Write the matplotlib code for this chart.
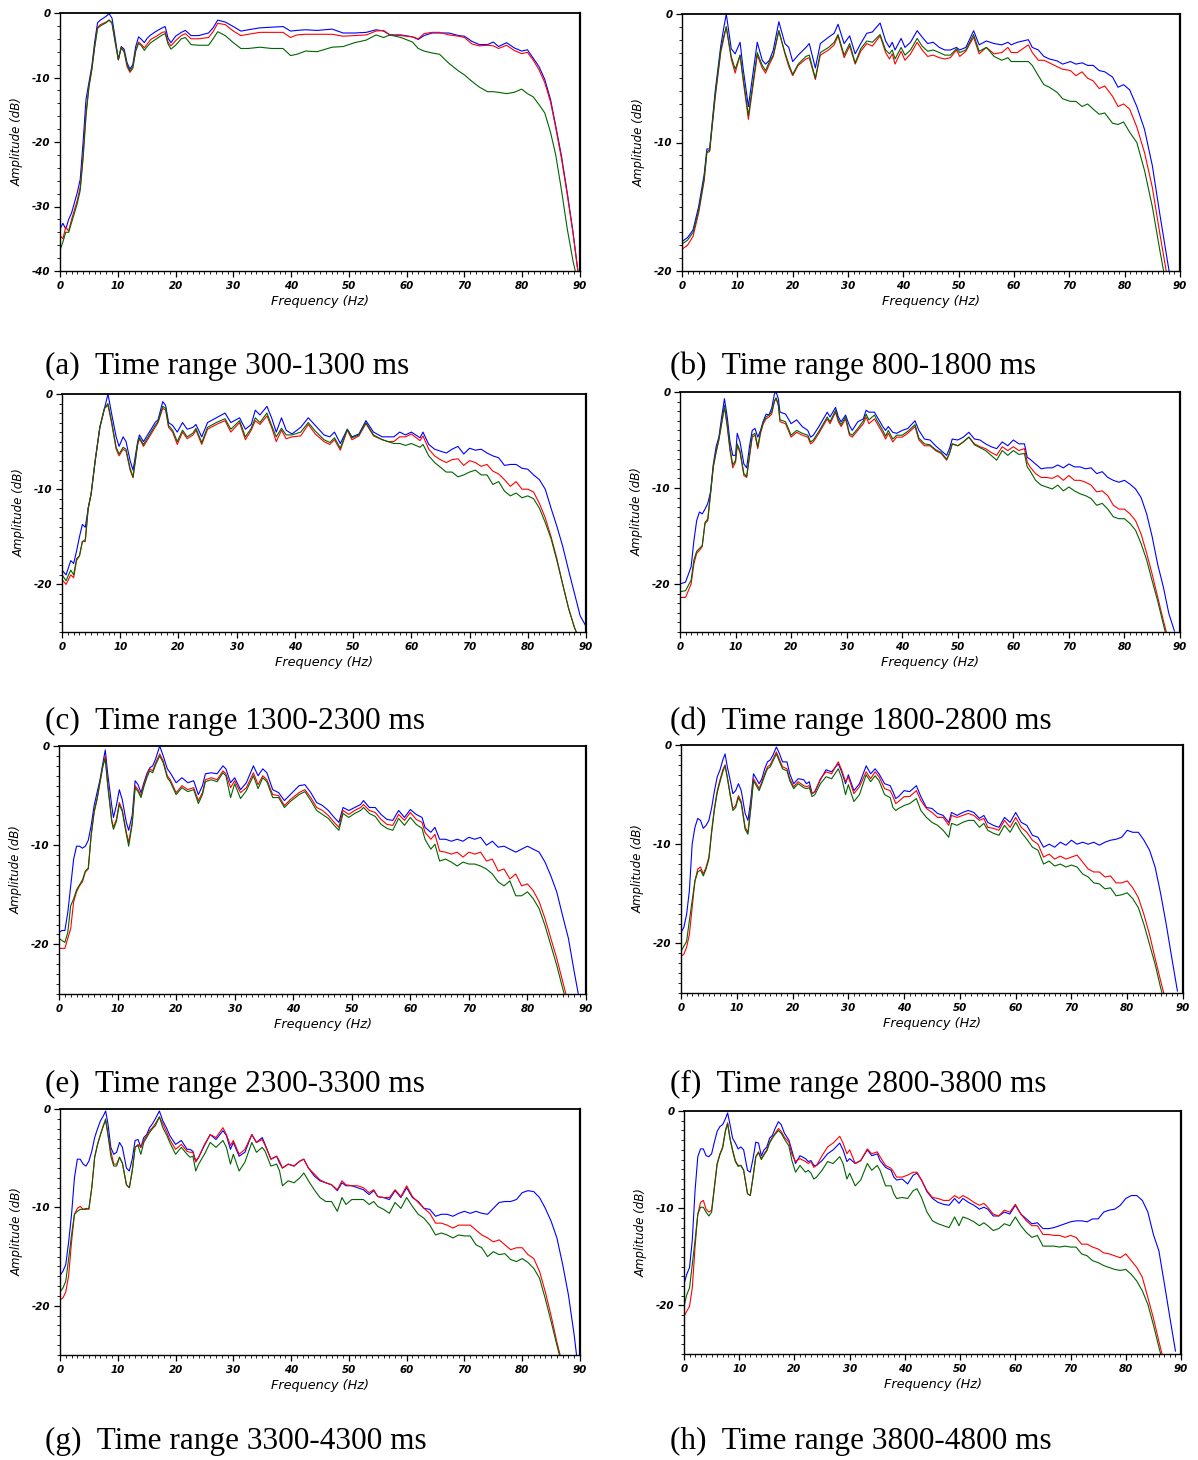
import matplotlib
matplotlib.use('Agg')
import matplotlib.pyplot as plt
from matplotlib.ticker import MultipleLocator

# ---------------- data (dB vs Hz) ----------------
a_freq = [0, 0.5, 1, 1.5, 2, 2.5, 3, 3.5, 4, 4.5, 5, 5.5, 6, 6.5, 7, 8, 8.5, 9, 9.5, 10.1,
          10.6, 11.1, 11.6, 12.1, 12.6, 13.1, 13.6, 14.1, 14.6, 15.1, 15.7, 16.7, 17.7, 18.2, 18.7, 19.2, 20, 21, 21.7, 22.7,
          24, 25.7, 26.5, 27.3, 28.6, 30, 31.3, 32.6, 34.6, 36.6, 38.6, 39.9, 41, 42.5, 44.5, 47.1, 49, 51, 53, 54.7,
          56, 57.1, 59, 61, 62, 63, 64.4, 65.7, 67.3, 69, 70, 71.3, 72.6, 74, 75, 75.9, 77.3, 78.6, 79.9, 80.9,
          81.9, 82.9, 83.9, 84.9, 85.8, 86.8, 87.8, 88.8, 89.7]
a_blue = [-33.5, -32.6, -33.5, -32, -31, -29.4, -27.8, -25.8, -20, -13.4, -10.8, -8.3, -4.5, -1.5, -1.1, -0.5, -0.1, -0.8, -3.6, -7.2,
          -5.2, -5.6, -7.7, -8.7, -8.0, -5.2, -3.7, -4.1, -4.6, -3.9, -3.4, -2.8, -2.3, -2.1, -3.9, -4.6, -3.6, -3.0, -2.7, -3.5,
          -3.5, -3.1, -2.3, -1.1, -1.4, -2.1, -2.8, -2.6, -2.3, -2.2, -2.1, -2.8, -2.7, -2.6, -2.7, -2.5, -3.1, -3.1, -3.0, -2.6,
          -2.8, -3.4, -3.4, -3.7, -4.1, -3.5, -3.1, -3.1, -3.1, -3.5, -3.6, -4.4, -4.9, -4.9, -4.5, -5.2, -4.6, -5.4, -5.9, -5.7,
          -7.0, -8.3, -10.3, -13.4, -17.5, -22.2, -27.9, -34, -40.5]
a_red = [-34.5, -35, -33.2, -33.8, -32, -30.5, -29, -27, -22, -15.5, -11.5, -8.8, -5.2, -2.2, -1.8, -1.4, -1.1, -1.6, -4.3, -7.3,
         -5.3, -6.0, -8.3, -9.2, -8.6, -5.8, -4.5, -4.9, -5.4, -4.8, -4.1, -3.6, -3.0, -2.9, -4.5, -5.1, -4.3, -3.5, -3.2, -4.0,
         -4.0, -3.8, -2.9, -1.6, -1.8, -2.8, -3.5, -3.3, -3.0, -3.0, -3.0, -3.8, -3.4, -3.3, -3.3, -3.3, -3.6, -3.5, -3.4, -2.8,
         -2.7, -3.4, -3.5, -3.7, -4.0, -3.2, -3.0, -3.0, -3.4, -3.6, -3.8, -4.8, -5.1, -5.0, -5.1, -5.5, -5.0, -5.8, -6.3, -6.1,
         -7.3, -8.8, -10.8, -13.8, -17.8, -22.6, -28.2, -34.2, -40.5]
a_green = [-36.8, -35.5, -34, -34, -32.5, -31, -29.5, -27.5, -22.5, -16, -11.5, -8.8, -5.3, -2.4, -2.0, -1.5, -1.1, -1.5, -4.2, -7.2,
           -5.4, -6.0, -8.0, -9.0, -8.4, -5.9, -4.7, -5.1, -5.8, -5.2, -4.6, -4.0, -3.4, -3.2, -4.8, -5.6, -5.0, -4.0, -3.8, -4.9,
           -5.0, -5.0, -4.0, -2.9, -3.5, -4.6, -5.5, -5.5, -5.3, -5.5, -5.5, -6.6, -6.4, -5.9, -6.0, -5.3, -5.2, -4.6, -4.2, -3.4,
           -3.8, -3.4, -3.8, -4.5, -5.5, -5.9, -6.2, -6.4, -7.8, -9.0, -9.6, -10.6, -11.5, -12.2, -12.2, -12.3, -12.5, -12.3, -11.8, -12.5,
           -13.0, -14.2, -15.5, -18.5, -22.0, -27.5, -33.5, -38.5, -42]

b_freq = [0, 1, 2, 3, 4, 4.5, 5, 6, 7, 7.5, 8, 8.9, 9.6, 10.5, 11, 12, 13.6, 14.5, 15.1, 15.8,
          16.5, 17.5, 18.6, 19.3, 20, 21, 22.4, 23, 24.1, 25, 26.5, 27.5, 28.2, 29.3, 30.3, 31.3, 32.3, 33.4, 34.4, 35.8,
          36.8, 37.5, 38, 38.5, 39.6, 40.3, 41.3, 42.5, 43.4, 44.4, 45.4, 46.5, 47.5, 48.5, 49.6, 50.2, 51.3, 52.7, 53.7, 55,
          56.4, 57.8, 58.9, 59.5, 60.6, 61.6, 62.6, 63.3, 64.4, 65.4, 66.4, 67.8, 68.8, 70.2, 71.2, 72.3, 73.3, 74.3, 75.4, 76.4,
          77.8, 78.8, 79.8, 80.9, 82.2, 83.6, 85, 86.4, 88.1]
b_blue = [-17.7, -17.4, -16.8, -15.0, -12.5, -10.5, -10.5, -6.0, -2.5, -1.2, 0.0, -2.7, -3.1, -2.2, -4.1, -7.2, -2.2, -3.6, -3.9, -3.6,
          -2.8, -0.6, -2.3, -2.6, -3.7, -3.2, -2.6, -2.3, -4.2, -2.3, -1.8, -1.5, -0.8, -2.3, -1.7, -3.1, -2.3, -1.5, -1.4, -0.7,
          -2.1, -2.6, -2.2, -2.8, -1.9, -2.6, -2.2, -1.3, -1.8, -2.3, -2.2, -2.6, -2.8, -2.8, -2.6, -2.8, -2.6, -1.3, -2.4, -2.1,
          -2.3, -2.4, -2.2, -2.4, -2.2, -2.1, -2.0, -2.6, -2.8, -3.3, -3.5, -3.65, -3.9, -3.7, -3.9, -3.8, -4.0, -4.0, -4.4, -4.5,
          -4.9, -5.7, -5.5, -5.9, -7.2, -9.0, -11.8, -15.7, -20.2]
b_red = [-18.3, -18.0, -17.3, -15.5, -13.0, -10.8, -10.7, -6.5, -3.0, -2.0, -1.0, -3.5, -4.6, -3.2, -5.0, -8.2, -3.2, -4.2, -4.6, -3.9,
         -3.3, -1.3, -3.1, -4.1, -4.8, -4.0, -3.5, -3.4, -5.1, -3.2, -2.8, -2.4, -1.7, -3.4, -2.5, -3.9, -2.9, -2.3, -2.5, -1.7,
         -3.0, -3.5, -3.1, -3.9, -2.9, -3.6, -3.1, -2.2, -2.8, -3.3, -3.2, -3.4, -3.5, -3.4, -2.8, -3.3, -2.9, -1.8, -3.1, -2.6,
         -3.1, -3.0, -2.6, -3.0, -3.0, -2.7, -2.4, -3.0, -3.6, -3.6, -3.8, -4.1, -4.3, -4.4, -4.8, -4.5, -5.0, -5.2, -5.8, -5.6,
         -6.4, -7.2, -7.0, -7.4, -8.8, -10.8, -13.5, -17.2, -21.5]
b_green = [-17.9, -17.6, -17.0, -15.3, -12.8, -10.7, -10.6, -6.3, -2.8, -1.8, -1.0, -3.3, -4.3, -3.2, -4.8, -7.9, -3.0, -4.0, -4.4, -3.7,
           -3.2, -1.3, -3.0, -3.9, -4.7, -3.9, -3.3, -3.2, -5.0, -3.0, -2.6, -2.2, -1.6, -3.2, -2.3, -3.8, -2.7, -2.1, -2.2, -1.6,
           -2.8, -3.1, -2.8, -3.5, -2.6, -3.2, -2.8, -1.9, -2.5, -2.9, -2.8, -3.0, -3.2, -3.2, -2.7, -3.0, -2.8, -1.6, -2.9, -2.6,
           -3.3, -3.6, -3.4, -3.7, -3.7, -3.7, -3.7, -4.0, -4.8, -5.5, -5.7, -6.1, -6.6, -6.8, -6.8, -7.2, -7.0, -7.4, -7.8, -7.7,
           -8.5, -8.6, -8.4, -9.2, -10.0, -12.2, -15.0, -18.5, -22.5]

c_freq = [0, 0.7, 1.5, 2, 2.5, 3, 3.5, 4, 4.5, 5, 5.7, 6.5, 7.3, 7.9, 8.5, 9.3, 9.8, 10.5, 11, 11.7,
          12.2, 13, 13.3, 14, 15, 16, 16.5, 17.3, 17.8, 18.3, 19, 19.8, 20.7, 21.5, 22.5, 23, 24, 25, 26.5, 28,
          29, 30.5, 31.5, 32.5, 33.2, 34, 35.2, 36, 36.8, 37.7, 38.5, 39.5, 41, 42.3, 43.5, 45, 46, 46.8, 47.8, 49,
          49.8, 51, 52.2, 53.5, 55, 56, 57, 58, 59, 60, 61.5, 62, 63, 64, 65, 66, 67, 68, 69, 70,
          71, 72, 73, 74, 75, 76, 77, 78, 79, 80, 81, 82, 83, 84, 85, 86, 87, 88, 89, 90]
c_blue = [-18.5, -19.0, -17.5, -17.8, -16.5, -15.0, -13.7, -14.0, -12.0, -10.5, -7.0, -3.5, -1.5, 0.0, -2.0, -4.5, -5.5, -4.5, -5.0, -7.0,
          -8.0, -5.0, -4.3, -5.0, -4.0, -3.0, -2.7, -0.8, -1.2, -3.0, -3.3, -4.0, -3.0, -3.7, -3.5, -3.2, -4.5, -3.0, -2.5, -2.0,
          -3.0, -2.5, -3.7, -3.2, -1.7, -2.2, -1.3, -2.5, -4.0, -2.5, -3.8, -4.2, -3.5, -2.5, -3.3, -4.3, -4.5, -4.0, -5.2, -3.7,
          -4.5, -4.2, -2.8, -4.0, -4.5, -4.5, -4.5, -4.0, -4.3, -4.0, -4.6, -4.0, -5.3, -5.8, -6.0, -6.2, -5.8, -5.5, -6.3, -5.7,
          -5.9, -5.8, -6.2, -6.5, -6.7, -7.5, -7.4, -7.4, -7.8, -7.9, -8.5, -9.0, -10.0, -12.0, -13.9, -16.0, -18.5, -20.9, -23.3, -24.4]
c_red = [-19.5, -20.0, -19.0, -19.3, -17.5, -17.0, -15.5, -15.5, -12.0, -10.5, -7.0, -3.5, -1.5, -1.2, -3.0, -5.8, -6.5, -5.8, -6.0, -8.0,
         -8.8, -5.3, -4.7, -5.5, -4.5, -3.5, -3.0, -1.5, -1.7, -3.5, -4.0, -5.3, -4.0, -4.7, -4.3, -3.8, -5.3, -3.7, -3.2, -2.8,
         -4.0, -3.0, -4.8, -3.8, -2.8, -3.2, -2.3, -3.5, -5.0, -3.8, -4.7, -4.5, -4.4, -3.2, -4.2, -5.0, -5.3, -4.8, -5.9, -3.8,
         -4.8, -4.4, -3.1, -4.4, -4.8, -5.0, -5.0, -4.5, -4.5, -4.2, -4.9, -4.4, -5.8, -6.5, -6.9, -7.2, -6.9, -6.8, -7.5, -7.0,
         -7.2, -7.6, -7.4, -8.1, -8.4, -9.0, -9.7, -9.2, -10.0, -10.0, -10.3, -11.5, -13.0, -15.0, -17.3, -20.0, -22.5, -24.5, -26.0, -27.0]
c_green = [-19.0, -19.6, -18.5, -19.0, -17.3, -17.0, -15.5, -15.3, -12.0, -10.5, -7.0, -3.5, -1.5, -1.0, -2.8, -5.6, -6.3, -5.6, -5.8, -7.8,
           -8.7, -5.2, -4.6, -5.3, -4.3, -3.3, -2.9, -1.3, -1.5, -3.3, -3.8, -5.0, -3.8, -4.5, -4.1, -3.6, -5.1, -3.5, -3.0, -2.6,
           -3.7, -2.8, -4.5, -3.6, -2.5, -3.0, -2.0, -3.3, -4.5, -3.6, -4.3, -4.3, -4.0, -3.0, -3.9, -4.8, -5.1, -4.6, -5.7, -3.7,
           -4.6, -4.3, -3.0, -4.3, -4.8, -5.0, -5.2, -5.2, -5.4, -5.2, -5.6, -5.3, -6.5, -7.2, -7.7, -8.2, -8.2, -8.7, -8.5, -8.2,
           -8.0, -8.5, -8.5, -9.5, -9.2, -10.2, -10.7, -10.4, -10.9, -10.7, -11.0, -12.0, -13.5, -15.2, -17.5, -20.0, -22.5, -24.5, -26.0, -27.0]

d_freq = [0, 1, 2, 2.5, 3, 3.5, 4, 4.5, 5, 5.5, 6, 6.5, 7, 7.5, 8, 8.5, 9, 9.5, 10, 10.3,
          10.8, 11.5, 12, 12.5, 13, 13.5, 14, 14.5, 15, 15.5, 16, 16.5, 17, 17.3, 17.7, 18, 19, 20, 21, 22,
          23, 23.5, 24, 25, 26, 26.5, 27, 28, 28.5, 29, 29.8, 30.5, 31, 32, 33, 33.5, 34, 35, 35.5, 36.5,
          37, 37.5, 38.3, 39, 40, 41, 42.3, 43, 44, 45, 46, 47, 48, 48.5, 49, 50, 51, 52, 53, 54,
          55, 56, 57, 58, 59, 60, 61, 62, 62.5, 63, 64, 65, 66, 67, 68, 69, 70, 71, 72, 73,
          74, 75, 76, 77, 78, 79, 80, 81, 82, 83, 84, 85, 86, 87, 88, 89]
d_blue = [-20.0, -19.8, -18.2, -15.5, -13.4, -12.5, -12.7, -12.2, -11.6, -10.4, -7.5, -5.7, -4.7, -2.6, -0.7, -2.6, -5.2, -6.6, -6.6, -4.3,
          -5.2, -7.5, -7.9, -5.7, -4.0, -3.8, -4.7, -4.0, -3.0, -2.3, -2.4, -1.7, -0.2, 0.0, -0.7, -2.1, -2.3, -3.3, -2.9, -3.6,
          -4.0, -4.7, -4.5, -3.6, -2.6, -2.1, -2.6, -1.6, -2.6, -3.1, -2.4, -3.5, -4.0, -3.1, -2.8, -1.9, -2.1, -2.1, -2.6, -3.6,
          -4.0, -3.6, -4.2, -4.3, -4.0, -3.8, -3.0, -4.0, -4.9, -5.0, -5.6, -6.1, -6.6, -5.9, -4.9, -5.0, -4.7, -4.2, -4.9, -5.0,
          -5.4, -5.7, -5.9, -5.2, -5.6, -5.0, -5.4, -5.4, -6.8, -7.0, -7.5, -8.0, -7.9, -7.9, -7.6, -7.9, -7.5, -7.8, -7.8, -8.0,
          -7.9, -8.5, -8.3, -8.9, -9.2, -9.4, -9.2, -9.6, -10.1, -11.0, -12.7, -15.1, -18.0, -20.3, -23.1, -24.9]
d_red = [-21.4, -21.4, -20.0, -17.9, -16.8, -16.5, -16.1, -13.7, -13.4, -10.6, -7.8, -6.3, -5.0, -3.3, -1.6, -3.6, -6.1, -7.9, -7.3, -5.6,
         -6.3, -8.7, -8.9, -6.8, -4.7, -4.5, -5.9, -4.3, -3.3, -2.8, -2.6, -2.3, -1.0, -0.7, -1.4, -3.1, -3.3, -4.7, -4.2, -4.5,
         -4.7, -5.4, -5.2, -4.3, -3.3, -2.8, -3.3, -2.1, -3.1, -3.6, -2.8, -4.5, -4.7, -4.0, -3.3, -2.6, -3.3, -2.8, -3.3, -4.3,
         -4.9, -4.3, -5.2, -4.7, -4.7, -4.3, -3.6, -5.0, -5.6, -5.6, -6.1, -6.4, -7.1, -6.4, -5.4, -5.6, -5.2, -4.7, -5.4, -5.7,
         -5.9, -6.3, -6.6, -5.7, -6.1, -5.7, -6.1, -5.9, -7.3, -7.8, -8.5, -8.9, -8.9, -9.0, -8.7, -9.2, -8.7, -9.2, -9.2, -9.4,
         -9.7, -10.4, -10.3, -10.8, -11.8, -12.2, -12.2, -12.7, -13.4, -14.8, -16.8, -19.0, -21.4, -23.8, -26.0, -27.5]
d_green = [-20.8, -20.7, -19.6, -17.5, -16.6, -16.3, -16.0, -13.6, -13.2, -10.5, -7.7, -6.2, -4.9, -3.2, -1.4, -3.4, -5.9, -7.6, -7.1, -5.4,
           -6.1, -8.5, -8.8, -6.6, -4.5, -4.3, -5.7, -4.1, -3.1, -2.6, -2.4, -2.1, -0.9, -0.6, -1.3, -2.9, -3.1, -4.5, -4.0, -4.3,
           -4.5, -5.2, -5.0, -4.1, -3.1, -2.6, -3.1, -1.9, -2.9, -3.4, -2.6, -4.3, -4.5, -3.8, -3.0, -2.3, -2.9, -2.4, -3.0, -4.0,
           -4.6, -4.0, -4.9, -4.5, -4.5, -4.1, -3.4, -4.8, -5.4, -5.5, -6.0, -6.3, -7.0, -6.4, -5.4, -5.6, -5.2, -4.7, -5.5, -5.8,
           -6.1, -6.6, -7.1, -6.1, -6.6, -6.1, -6.5, -6.4, -7.8, -8.2, -9.2, -9.7, -9.9, -10.1, -9.7, -10.3, -9.9, -10.3, -10.6, -10.8,
           -11.1, -11.8, -11.6, -12.2, -13.0, -13.2, -13.2, -13.7, -14.4, -15.8, -17.5, -19.7, -21.8, -24.2, -26.5, -28.0]

e_freq = [0, 0.5, 1, 1.5, 2, 2.5, 3, 3.5, 4, 4.5, 5, 5.5, 6, 6.5, 7, 7.5, 7.9, 8.3, 9, 9.3,
          9.8, 10.3, 10.8, 11.5, 11.9, 12.5, 13, 13.5, 14, 14.5, 15, 15.5, 16, 16.5, 17.2, 17.8, 18.5, 19, 20, 21,
          22, 23, 23.8, 24.5, 25, 26, 27, 28, 28.5, 29.3, 30, 31, 32, 33.2, 34, 34.8, 35.5, 36.5, 37.5, 38.5,
          39.5, 41, 42, 43, 44, 45, 46, 47, 47.8, 48.5, 49.5, 50.5, 51.5, 52, 53, 54, 55, 56, 57, 58,
          59, 60, 61, 62, 62.5, 63.5, 64.2, 65, 66, 67, 68, 69, 70, 71, 72, 73, 74, 75, 76, 77,
          78, 79, 80, 81, 82, 83, 84, 85, 86, 87, 88, 89]
e_blue = [-18.8, -18.6, -18.6, -16.8, -14.1, -11.4, -10.1, -10.1, -10.3, -10.1, -9.5, -8.0, -6.0, -4.7, -3.4, -1.7, -0.4, -2.7, -6.0, -7.2,
          -6.0, -4.4, -5.4, -7.7, -8.5, -7.0, -3.5, -3.9, -4.7, -3.7, -2.8, -2.2, -2.0, -1.3, 0.0, -1.0, -2.3, -2.7, -3.7, -3.2,
          -3.7, -3.5, -4.9, -4.0, -2.8, -2.7, -2.8, -2.0, -2.3, -3.7, -3.2, -4.4, -3.7, -2.0, -3.0, -2.3, -2.7, -4.4, -4.7, -5.5,
          -4.9, -4.0, -3.9, -4.7, -5.7, -6.0, -6.5, -7.2, -7.7, -6.2, -6.5, -6.2, -5.9, -5.5, -6.2, -6.2, -6.9, -7.4, -7.5, -6.5,
          -7.2, -6.4, -6.9, -7.2, -8.2, -8.7, -8.2, -9.4, -9.4, -9.6, -9.4, -9.6, -9.2, -9.4, -9.2, -10.0, -9.6, -10.2, -10.1, -10.4,
          -10.7, -10.4, -10.1, -10.4, -10.7, -11.7, -13.1, -14.7, -17.1, -19.4, -22.8, -26.0]
e_red = [-20.4, -20.4, -20.4, -19.4, -18.4, -15.7, -14.7, -14.1, -13.7, -12.7, -12.4, -9.0, -6.7, -5.4, -3.7, -2.0, -1.0, -3.7, -7.4, -8.2,
         -7.4, -5.7, -6.4, -8.7, -9.7, -7.7, -4.0, -4.4, -5.0, -3.9, -3.0, -2.3, -2.5, -1.7, -0.8, -1.5, -3.0, -3.4, -4.7, -4.0,
         -4.4, -4.2, -5.5, -4.7, -3.4, -3.2, -3.4, -2.5, -2.8, -4.2, -3.5, -4.7, -4.2, -2.7, -3.9, -3.0, -3.4, -4.9, -5.0, -6.0,
         -5.4, -4.7, -4.4, -5.2, -6.2, -6.5, -7.0, -7.7, -8.2, -6.5, -6.9, -6.5, -6.2, -5.9, -6.5, -6.7, -7.4, -7.9, -8.0, -6.9,
         -7.5, -6.7, -7.4, -7.7, -8.7, -9.4, -8.9, -10.6, -10.7, -10.9, -10.7, -11.2, -10.7, -10.9, -10.7, -11.6, -11.4, -12.6, -12.4, -13.4,
         -12.9, -14.1, -13.9, -14.6, -15.7, -17.4, -19.4, -21.4, -23.7, -26.0, -28.0, -30.0]
e_green = [-19.4, -19.6, -19.8, -18.8, -16.1, -15.4, -14.5, -14.0, -13.5, -12.6, -12.3, -8.9, -6.6, -5.3, -3.6, -2.0, -1.3, -3.9, -7.6, -8.4,
           -7.6, -5.9, -6.6, -8.9, -10.1, -7.9, -4.2, -4.6, -5.2, -4.1, -3.2, -2.5, -2.7, -1.9, -1.0, -1.7, -3.2, -3.6, -4.9, -4.2,
           -4.6, -4.4, -5.8, -4.9, -3.6, -3.4, -3.6, -2.7, -3.0, -5.2, -3.8, -5.3, -4.5, -3.0, -4.3, -3.2, -3.6, -5.2, -5.2, -6.2,
           -5.6, -4.9, -4.6, -5.5, -6.5, -6.9, -7.3, -8.0, -8.5, -6.8, -7.2, -6.8, -6.5, -6.2, -6.8, -7.1, -7.9, -8.3, -8.5, -7.3,
           -8.0, -7.2, -7.9, -8.3, -9.4, -10.4, -9.9, -11.6, -11.4, -11.7, -12.1, -11.7, -11.9, -11.9, -12.1, -12.4, -12.9, -13.7, -14.1, -13.6,
           -15.1, -15.1, -14.7, -15.4, -16.4, -18.1, -20.1, -22.1, -24.4, -26.5, -28.5, -30.5]

f_freq = [0, 0.5, 1, 1.5, 2, 2.5, 3, 3.5, 4, 4.5, 5, 5.5, 6, 6.5, 7, 7.5, 7.9, 8.3, 8.8, 9.3,
          9.8, 10.3, 10.8, 11.5, 12, 12.5, 13, 13.5, 14, 14.5, 15, 15.5, 16, 16.5, 17.1, 17.6, 18.2, 19, 19.5, 20.2,
          21, 22, 22.5, 23, 23.5, 24, 25, 26, 27, 28.2, 28.8, 29.5, 30, 31, 32, 33.2, 34, 34.8, 35.5, 36.5,
          37.5, 38, 38.5, 39, 40, 41, 42.2, 43, 44, 45, 46, 47, 48, 48.5, 49.5, 50.5, 51.5, 52.5, 53.5, 54.3,
          55, 56, 57, 58, 59, 60, 61, 62, 63, 64, 65, 66, 67, 68, 69, 70, 71, 72, 73, 74,
          75, 76, 77, 78, 79, 80, 81, 82, 83, 84, 85, 86, 87, 88, 89]
f_blue = [-18.9, -18.4, -17.1, -14.7, -10.0, -8.3, -7.4, -7.6, -8.4, -8.1, -7.6, -6.3, -4.6, -3.2, -2.5, -1.5, -0.9, -2.2, -3.5, -4.9,
          -4.6, -3.9, -4.6, -6.9, -7.6, -5.6, -2.9, -3.4, -3.9, -3.4, -2.4, -1.7, -1.5, -1.0, -0.2, -0.8, -1.7, -1.7, -2.9, -3.9,
          -3.4, -3.5, -3.9, -3.7, -4.9, -4.7, -3.5, -2.5, -2.7, -1.9, -2.7, -3.9, -3.0, -4.6, -3.9, -2.1, -2.9, -2.4, -2.9, -3.9,
          -4.1, -4.7, -5.4, -5.2, -4.6, -4.7, -4.1, -5.2, -6.3, -6.4, -6.9, -7.1, -7.8, -6.8, -7.1, -6.8, -6.6, -6.8, -7.4, -7.1,
          -7.8, -8.1, -8.3, -7.3, -7.8, -6.8, -7.8, -8.1, -9.1, -9.3, -10.3, -10.0, -10.3, -9.8, -10.1, -9.6, -10.0, -9.8, -10.0, -9.8,
          -10.1, -9.8, -9.6, -9.5, -9.3, -8.6, -8.8, -8.8, -9.6, -10.6, -12.3, -15.0, -18.1, -21.5, -24.8]
f_red = [-21.3, -21.1, -20.4, -19.1, -16.4, -13.7, -12.5, -12.3, -13.0, -12.3, -11.3, -8.6, -6.3, -4.6, -3.5, -2.5, -2.0, -3.2, -4.9, -6.4,
         -6.1, -5.1, -5.7, -8.3, -8.8, -6.3, -3.4, -3.9, -4.4, -3.7, -2.9, -2.2, -2.0, -1.4, -0.7, -1.4, -2.2, -2.4, -3.4, -4.2,
         -3.7, -4.1, -4.2, -4.1, -4.9, -4.7, -3.4, -2.7, -2.9, -1.7, -2.5, -3.7, -3.2, -4.9, -4.2, -2.7, -3.4, -2.7, -3.2, -4.4,
         -4.6, -5.2, -5.9, -5.7, -5.2, -5.2, -4.6, -5.6, -6.4, -6.8, -7.3, -7.3, -8.1, -7.1, -7.3, -7.1, -6.9, -7.1, -7.6, -7.4,
         -8.3, -8.4, -8.6, -7.6, -8.3, -7.3, -8.3, -8.8, -9.6, -10.0, -11.3, -11.0, -11.5, -11.2, -11.5, -11.3, -11.1, -11.8, -12.5, -12.8,
         -12.8, -13.3, -13.2, -13.9, -13.9, -13.7, -14.4, -15.4, -17.1, -19.1, -21.5, -23.8, -26.0, -28.0, -30.0]
f_green = [-20.8, -20.3, -19.8, -17.7, -15.7, -13.7, -12.8, -12.6, -13.2, -12.5, -11.5, -8.8, -6.5, -4.8, -3.7, -2.7, -2.1, -3.3, -5.0, -6.6,
           -6.3, -5.3, -5.9, -8.5, -9.0, -6.5, -3.6, -4.1, -4.6, -3.9, -3.1, -2.4, -2.2, -1.6, -0.9, -1.6, -2.4, -2.6, -3.6, -4.4,
           -3.9, -4.3, -4.4, -4.3, -5.2, -5.0, -3.9, -3.2, -3.4, -2.4, -3.3, -5.0, -4.0, -5.7, -5.0, -3.0, -3.7, -3.1, -3.6, -5.0,
           -5.3, -6.3, -6.6, -6.4, -6.1, -5.9, -5.4, -6.6, -7.3, -7.8, -8.1, -8.6, -9.3, -7.9, -8.1, -7.8, -7.6, -7.6, -8.3, -7.9,
           -8.6, -8.9, -9.1, -8.1, -8.8, -7.8, -8.8, -9.5, -10.3, -10.6, -12.0, -11.7, -12.2, -12.0, -12.3, -12.1, -12.3, -13.0, -13.3, -13.9,
           -14.0, -14.5, -14.4, -15.2, -15.1, -14.9, -15.5, -16.4, -18.1, -20.1, -22.1, -24.5, -26.5, -28.5, -30.5]

g_freq = [0, 0.5, 1, 1.5, 2, 2.5, 3, 3.5, 4, 4.5, 5, 5.5, 6, 6.5, 7, 7.5, 7.9, 8.3, 8.8, 9.3,
          9.8, 10.3, 10.8, 11.5, 12, 12.5, 13, 13.5, 14, 14.5, 15, 15.5, 16, 16.5, 17.2, 17.8, 18.5, 19, 20, 21,
          22, 22.5, 23, 23.5, 24, 25, 26, 27, 28.2, 28.8, 29.5, 30, 31, 32, 33.2, 34, 35, 35.5, 36.5, 37.5,
          38, 38.5, 39.5, 40.5, 41.5, 42.2, 43, 44, 45, 46, 47, 48, 48.8, 49.5, 50.5, 51.5, 52.5, 53.5, 54.3, 55,
          56, 57, 58, 59, 60, 61, 62, 63, 64, 65, 66, 67, 68, 69, 70, 71, 72, 73, 74, 75,
          76, 77, 78, 79, 80, 81, 82, 83, 84, 85, 86, 87, 88, 89, 89.5]
g_blue = [-16.9, -16.5, -15.8, -13.5, -10.7, -7.0, -5.1, -5.1, -5.6, -5.8, -5.3, -4.3, -2.9, -2.0, -1.2, -0.7, -0.2, -1.5, -3.9, -4.6,
          -4.4, -3.4, -3.9, -6.0, -6.3, -5.1, -3.2, -3.1, -3.9, -2.9, -2.6, -1.9, -1.5, -1.0, -0.2, -1.2, -2.0, -2.7, -3.6, -3.2,
          -4.1, -4.1, -4.3, -5.3, -4.9, -3.7, -2.6, -3.1, -2.2, -2.7, -4.1, -3.4, -4.8, -4.4, -2.6, -3.4, -2.9, -3.6, -5.1, -4.8,
          -5.5, -6.0, -5.6, -5.8, -5.3, -5.1, -6.0, -6.8, -7.3, -7.5, -7.7, -8.3, -7.5, -7.8, -7.8, -8.0, -8.2, -8.7, -8.3, -8.9,
          -9.0, -9.2, -8.3, -9.0, -8.0, -9.0, -9.4, -10.1, -10.2, -10.9, -10.7, -10.7, -10.9, -10.6, -10.4, -10.6, -10.4, -10.6, -10.7, -10.1,
          -9.5, -9.4, -9.4, -9.2, -8.5, -8.3, -8.4, -9.0, -10.1, -11.4, -13.1, -15.8, -18.9, -23.0, -25.5]
g_red = [-19.4, -19.2, -18.6, -16.9, -13.5, -10.7, -10.1, -9.9, -10.2, -10.1, -10.2, -8.0, -4.9, -3.6, -2.6, -1.7, -1.2, -2.6, -4.3, -5.6,
         -5.6, -4.9, -5.5, -7.7, -8.0, -6.3, -3.9, -3.6, -3.9, -3.2, -2.7, -2.2, -1.9, -1.5, -0.8, -1.5, -2.4, -3.1, -4.1, -3.6,
         -4.3, -4.4, -4.4, -5.4, -4.9, -3.6, -2.6, -2.9, -1.9, -2.6, -3.7, -3.2, -4.6, -4.1, -2.6, -3.4, -3.1, -3.7, -5.1, -4.8,
         -5.3, -6.0, -5.6, -5.8, -5.3, -5.1, -6.0, -6.6, -7.2, -7.5, -7.7, -8.2, -7.3, -7.7, -7.8, -7.8, -8.0, -8.5, -8.2, -8.9,
         -9.0, -9.0, -8.2, -8.9, -7.8, -8.9, -9.5, -10.1, -10.6, -11.6, -11.6, -11.8, -12.1, -11.8, -11.8, -11.8, -12.3, -12.8, -13.1, -13.5,
         -13.3, -13.8, -14.3, -14.1, -14.1, -14.8, -15.2, -16.5, -18.6, -21.0, -23.7, -26.0, -28.0, -30.0, -31.0]
g_green = [-18.6, -18.2, -17.5, -15.2, -12.8, -10.7, -10.4, -10.2, -10.2, -10.2, -10.1, -8.0, -4.9, -3.6, -2.6, -1.7, -1.0, -2.6, -4.8, -5.8,
           -5.8, -4.9, -5.5, -7.7, -8.0, -6.3, -3.9, -3.7, -4.6, -3.4, -2.9, -2.4, -2.0, -1.7, -0.8, -1.9, -2.7, -3.4, -4.6, -3.9,
           -4.6, -4.9, -4.8, -6.3, -5.6, -4.6, -3.4, -3.9, -3.2, -3.9, -5.6, -4.6, -6.3, -5.4, -3.4, -4.4, -3.9, -4.3, -5.8, -5.6,
           -6.3, -7.8, -7.3, -7.5, -7.0, -6.5, -7.3, -8.2, -9.0, -9.4, -9.4, -10.4, -9.0, -9.7, -9.2, -9.2, -9.2, -9.7, -9.4, -9.9,
           -10.2, -10.6, -9.5, -10.1, -9.0, -9.9, -10.7, -11.1, -11.8, -12.8, -12.6, -12.8, -13.1, -12.8, -12.9, -12.9, -13.8, -14.1, -15.0, -14.5,
           -14.8, -14.7, -15.3, -15.5, -15.2, -15.6, -16.2, -17.2, -19.3, -21.6, -24.0, -26.3, -28.3, -30.3, -31.3]

h_freq = [0, 0.5, 1, 1.5, 2, 2.5, 3, 3.5, 4, 4.5, 5, 5.5, 6, 6.5, 7, 7.5, 7.9, 8.3, 8.8, 9.3,
          9.8, 10.3, 10.8, 11.5, 12, 12.5, 13, 13.5, 14, 14.5, 15, 15.5, 16, 16.5, 17.1, 17.6, 18.2, 19, 19.5, 20.2,
          21, 22, 22.5, 23, 23.5, 24, 25, 26, 27, 28.2, 28.8, 29.5, 30, 31, 32, 33.2, 34, 35, 35.5, 36.5,
          37.5, 38, 38.5, 39.5, 40.5, 41.5, 42.2, 43, 44, 45, 46, 47, 48, 49, 49.8, 50.5, 51.5, 52.5, 53.5, 54.3,
          55, 56, 57, 58, 59, 60, 61, 62, 63, 64, 65, 66, 67, 68, 69, 70, 71, 72, 73, 74,
          75, 76, 77, 78, 79, 80, 81, 82, 83, 84, 85, 86, 87, 88, 89]
h_blue = [-17.8, -16.8, -16.1, -13.3, -8.2, -4.7, -3.9, -3.9, -4.6, -4.7, -4.4, -3.2, -2.1, -1.6, -1.4, -0.8, -0.2, -1.3, -2.8, -3.3,
          -3.9, -3.7, -4.0, -6.1, -6.3, -4.9, -3.2, -3.3, -4.6, -4.0, -3.7, -2.8, -2.5, -1.8, -1.1, -1.4, -2.3, -3.0, -4.0, -5.4,
          -4.6, -4.9, -5.2, -5.1, -5.6, -5.6, -5.1, -4.4, -4.0, -3.3, -4.0, -5.2, -4.9, -5.4, -5.1, -4.0, -4.6, -4.4, -5.1, -5.8,
          -6.1, -6.8, -7.1, -7.0, -7.5, -6.6, -6.4, -7.1, -8.3, -9.0, -9.4, -9.6, -9.7, -9.0, -9.5, -9.0, -9.4, -9.7, -10.1, -9.9,
          -10.1, -10.8, -10.8, -10.4, -10.6, -9.7, -10.6, -11.1, -11.6, -11.5, -12.1, -12.1, -12.0, -11.8, -11.6, -11.4, -11.3, -11.3, -11.4, -11.1,
          -11.1, -10.4, -10.2, -10.1, -9.7, -9.0, -8.7, -8.7, -9.2, -10.4, -12.7, -14.4, -17.8, -21.3, -24.7]
h_red = [-21.1, -20.6, -20.1, -18.2, -14.0, -10.6, -9.4, -9.2, -10.1, -10.4, -10.2, -7.8, -5.4, -4.4, -3.7, -2.0, -1.2, -2.7, -4.0, -5.1,
         -5.6, -5.6, -6.1, -8.5, -8.7, -6.8, -4.7, -4.2, -4.9, -4.4, -4.0, -3.2, -2.7, -2.3, -1.8, -2.1, -2.7, -3.2, -4.4, -5.2,
         -4.9, -5.2, -5.4, -5.2, -5.8, -5.6, -4.6, -3.7, -3.3, -2.6, -3.3, -4.4, -4.0, -5.4, -5.1, -3.9, -4.4, -4.2, -4.7, -5.6,
         -5.9, -6.3, -6.8, -6.8, -6.6, -6.3, -6.3, -7.1, -8.2, -8.9, -9.0, -9.2, -9.2, -8.7, -9.0, -8.7, -9.0, -9.4, -9.7, -9.5,
         -9.9, -10.6, -10.8, -10.2, -10.4, -9.6, -10.6, -11.3, -11.8, -11.8, -12.7, -12.7, -12.8, -12.8, -13.0, -12.8, -13.0, -13.7, -13.7, -14.0,
         -14.2, -14.6, -14.7, -14.9, -15.1, -14.7, -15.4, -16.1, -17.1, -19.2, -21.3, -23.7, -26.0, -28.0, -30.0]
h_green = [-20.1, -18.9, -18.2, -15.8, -13.3, -10.6, -9.9, -9.9, -10.4, -10.8, -10.4, -7.9, -5.5, -4.5, -3.8, -2.1, -1.3, -2.8, -4.1, -5.2,
           -5.7, -5.6, -6.1, -8.5, -8.7, -6.8, -4.7, -4.3, -5.0, -4.5, -4.1, -3.3, -2.8, -2.4, -2.0, -2.3, -2.9, -3.6, -5.0, -6.3,
           -5.6, -6.3, -6.1, -6.4, -7.0, -6.8, -6.1, -5.2, -5.4, -4.7, -5.4, -7.0, -6.4, -7.7, -7.1, -5.4, -6.1, -5.6, -6.1, -7.7,
           -7.7, -8.5, -9.0, -8.9, -9.0, -8.2, -8.0, -8.9, -10.4, -11.3, -11.6, -11.8, -12.0, -10.9, -11.8, -10.9, -11.1, -11.4, -11.8, -11.5,
           -11.8, -12.3, -12.1, -11.6, -11.8, -10.9, -11.8, -12.5, -13.0, -12.8, -13.9, -13.9, -13.9, -14.0, -13.9, -14.0, -14.0, -14.7, -14.9, -15.4,
           -15.6, -15.9, -16.1, -16.3, -16.4, -16.3, -16.8, -17.5, -18.5, -19.9, -22.0, -24.3, -26.5, -28.5, -30.5]

captions = ['(a)  Time range 300-1300 ms', '(b)  Time range 800-1800 ms',
            '(c)  Time range 1300-2300 ms', '(d)  Time range 1800-2800 ms',
            '(e)  Time range 2300-3300 ms', '(f)  Time range 2800-3800 ms',
            '(g)  Time range 3300-4300 ms', '(h)  Time range 3800-4800 ms']
y_bottoms = [-40, -20, -25, -25, -25, -25, -25, -25]
y_ticks = [[0, -10, -20, -30, -40], [0, -10, -20]] + [[0, -10, -20]] * 6
y_minor = [2, 1, 1, 1, 1, 1, 1, 1]

panels = [
    (a_freq, a_blue, a_red, a_green),
    (b_freq, b_blue, b_red, b_green),
    (c_freq, c_blue, c_red, c_green),
    (d_freq, d_blue, d_red, d_green),
    (e_freq, e_blue, e_red, e_green),
    (f_freq, f_blue, f_red, f_green),
    (g_freq, g_blue, g_red, g_green),
    (h_freq, h_blue, h_red, h_green),
]

# ---------------- layout (pixel boxes: left, top, right, bottom) ----------------
W, H = 1198, 1460
boxes = [(60, 13, 580, 271), (682, 14, 1180, 271),
         (62, 394, 586, 632), (680, 392, 1180, 632),
         (59, 746, 586, 994), (681, 745, 1183, 993),
         (60, 1109, 580, 1355), (684, 1111, 1181, 1354)]
cap_pos = [(45, 366), (670, 366), (45, 721), (670, 721),
           (45, 1084), (670, 1084), (45, 1441), (670, 1441)]

fig = plt.figure(figsize=(W / 100, H / 100), dpi=100)
fig.patch.set_facecolor('white')

tick_font = dict(family='DejaVu Sans', weight='bold', style='italic', size=7.4)
xlab_font = dict(family='DejaVu Sans', style='italic', size=9.3)
ylab_font = dict(family='DejaVu Sans', style='italic', size=8.5)

for i, (fr, bl, rd, gr) in enumerate(panels):
    assert len(fr) == len(bl) == len(rd) == len(gr), (i, len(fr), len(bl), len(rd), len(gr))
    l, t, r, b = boxes[i]
    ax = fig.add_axes([l / W, 1 - b / H, (r - l) / W, (b - t) / H])
    ax.plot(fr, bl, color='#0000ff', lw=0.8)
    ax.plot(fr, rd, color='#ff0000', lw=0.8)
    ax.plot(fr, gr, color='#006400', lw=0.8)
    ax.set_xlim(0, 90)
    ax.set_ylim(y_bottoms[i], 0)
    ax.set_xticks(range(0, 91, 10))
    ax.set_yticks(y_ticks[i])
    ax.xaxis.set_minor_locator(MultipleLocator(1))
    ax.yaxis.set_minor_locator(MultipleLocator(y_minor[i]))
    ax.tick_params(which='major', direction='out', length=4, width=0.9, pad=3)
    ax.tick_params(which='minor', direction='out', length=2, width=0.6)
    ax.set_xticklabels([str(v) for v in range(0, 91, 10)], fontdict=tick_font)
    ax.set_yticklabels([str(v) for v in y_ticks[i]], fontdict=tick_font)
    for s in ax.spines.values():
        s.set_linewidth(1.0)
        s.set_color('black')
    ax.spines['right'].set_linewidth(1.6)
    ax.spines['top'].set_linewidth(1.3)
    ax.set_xlabel('Frequency (Hz)', fontdict=xlab_font, labelpad=3)
    ax.set_ylabel('Amplitude (dB)', fontdict=ylab_font, labelpad=6)

    cx, cy = cap_pos[i]
    fig.text(cx / W, 1 - cy / H, captions[i], ha='left', va='center',
             family='Liberation Serif', fontsize=22.5)

fig.savefig('out.png', dpi=100, facecolor='white')
